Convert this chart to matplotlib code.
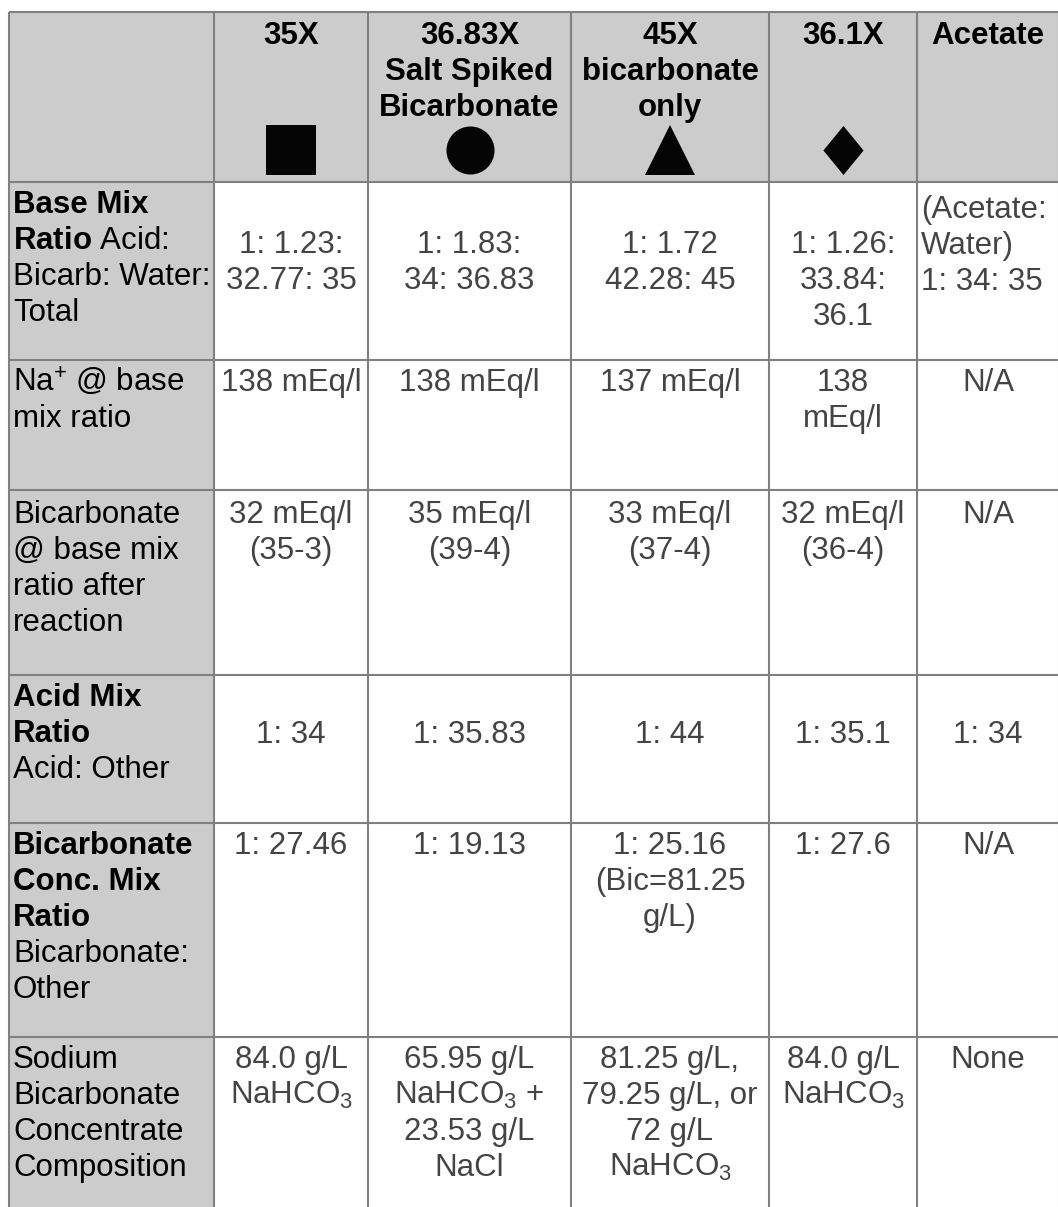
import matplotlib
matplotlib.use("Agg")
import matplotlib.pyplot as plt
from matplotlib.path import Path

plt.rcParams['font.family'] = ['Liberation Sans', 'DejaVu Sans']
plt.rcParams['mathtext.fontset'] = 'custom'
plt.rcParams['mathtext.rm'] = 'Liberation Sans'
plt.rcParams['mathtext.it'] = 'Liberation Sans:italic'
plt.rcParams['mathtext.bf'] = 'Liberation Sans:bold'

# ---------------- data ----------------
column_headers = [
    ["35X"],
    ["36.83X", "Salt Spiked", "Bicarbonate"],
    ["45X", "bicarbonate", "only"],
    ["36.1X"],
    ["Acetate"],
]
column_markers = ["s", "o", "^", "diamond", None]

# "**...**" marks a bold line
row_labels = [
    ["**Base Mix**", r"$\mathbf{Ratio}$ Acid:", "Bicarb: Water:", "Total"],
    ["Na$^{+}$ @ base", "mix ratio"],
    ["Bicarbonate", "@ base mix", "ratio after", "reaction"],
    ["**Acid Mix**", "**Ratio**", "Acid: Other"],
    ["**Bicarbonate**", "**Conc. Mix**", "**Ratio**", "Bicarbonate:", "Other"],
    ["Sodium", "Bicarbonate", "Concentrate", "Composition"],
]

cell_values = [
    [["1: 1.23:", "32.77: 35"], ["1: 1.83:", "34: 36.83"], ["1: 1.72", "42.28: 45"],
     ["1: 1.26:", "33.84:", "36.1"], ["(Acetate:", "Water)", "1: 34: 35"]],
    [["138 mEq/l"], ["138 mEq/l"], ["137 mEq/l"], ["138", "mEq/l"], ["N/A"]],
    [["32 mEq/l", "(35-3)"], ["35 mEq/l", "(39-4)"], ["33 mEq/l", "(37-4)"],
     ["32 mEq/l", "(36-4)"], ["N/A"]],
    [["1: 34"], ["1: 35.83"], ["1: 44"], ["1: 35.1"], ["1: 34"]],
    [["1: 27.46"], ["1: 19.13"], ["1: 25.16", "(Bic=81.25", "g/L)"], ["1: 27.6"], ["N/A"]],
    [["84.0 g/L", "NaHCO$_{3}$"], ["65.95 g/L", "NaHCO$_{3}$ +", "23.53 g/L", "NaCl"],
     ["81.25 g/L,", "79.25 g/L, or", "72 g/L", "NaHCO$_{3}$"], ["84.0 g/L", "NaHCO$_{3}$"], ["None"]],
]

# ---------------- layout (pixels) ----------------
W, H = 1058, 1207
col_edges = [9, 214, 368, 571, 769, 917, 1059]
row_edges = [12, 182, 360, 490, 675, 823, 1037, 1215]
label_first_line = [202, 380, 512, 695, 843, 1057]
value_first_line = [[242, 242, 242, 242, 207], [380] * 5, [512] * 5, [732] * 5, [843] * 5, [1057] * 5]
value_align = [["center"] * 4 + ["left"]] + [["center"] * 5 for _ in range(5)]
header_first_line = 33
marker_y = 150
line_step = 36
cap_half = 11
fs = 22.5
gray_bg = "#cccccc"
border = "#808080"
value_color = "#444444"

fig = plt.figure(figsize=(W / 100, H / 100), dpi=100)
ax = fig.add_axes([0, 0, 1, 1])
ax.set_xlim(0, W)
ax.set_ylim(H, 0)
ax.axis("off")

# backgrounds
ax.axhspan(row_edges[0], row_edges[1], xmin=col_edges[0] / W, xmax=1, color=gray_bg, lw=0, zorder=0)
ax.axvspan(col_edges[0], col_edges[1], ymin=0, ymax=1 - row_edges[0] / H, color=gray_bg, lw=0, zorder=0)

# borders
for x in col_edges:
    ax.plot([x, x], [row_edges[0], row_edges[-1]], color=border, lw=1.5, zorder=2,
            solid_capstyle="butt", clip_on=False)
for y in row_edges[:-1]:
    ax.plot([col_edges[0], col_edges[-1]], [y, y], color=border, lw=1.5, zorder=2,
            solid_capstyle="butt", clip_on=False)

# header texts and markers
diamond = Path([(0, 1), (0.82, 0), (0, -1), (-0.82, 0), (0, 1)],
               [Path.MOVETO, Path.LINETO, Path.LINETO, Path.LINETO, Path.CLOSEPOLY])
marker_sizes = {"s": 35.3, "o": 34.6, "^": 35.5, "diamond": 35.3}
for j, lines in enumerate(column_headers):
    cx = (col_edges[j + 1] + col_edges[j + 2]) / 2
    for k, line in enumerate(lines):
        ax.text(cx, header_first_line + k * line_step + cap_half, line, ha="center",
                va="baseline", fontsize=fs, fontweight="bold", color="black", zorder=3)
    m = column_markers[j]
    if m is not None:
        mk = diamond if m == "diamond" else m
        ax.plot([cx], [marker_y], marker=mk, ms=marker_sizes[m], color="#050505",
                mew=0, ls="none", zorder=3)

# row labels
for i, lines in enumerate(row_labels):
    for k, line in enumerate(lines):
        bold = line.startswith("**") and line.endswith("**")
        txt = line.strip("*") if bold else line
        ax.text(col_edges[0] + 4, label_first_line[i] + k * line_step + cap_half, txt,
                ha="left", va="baseline", fontsize=fs,
                fontweight="bold" if bold else "normal", color="black", zorder=3)

# values
for i, row in enumerate(cell_values):
    for j, lines in enumerate(row):
        align = value_align[i][j]
        if align == "center":
            x = (col_edges[j + 1] + col_edges[j + 2]) / 2
        else:
            x = col_edges[j + 1] + 4
        for k, line in enumerate(lines):
            ax.text(x, value_first_line[i][j] + k * line_step + cap_half, line,
                    ha=align, va="baseline", fontsize=fs, color=value_color, zorder=3)

fig.savefig("out.png", dpi=100, facecolor="white")
